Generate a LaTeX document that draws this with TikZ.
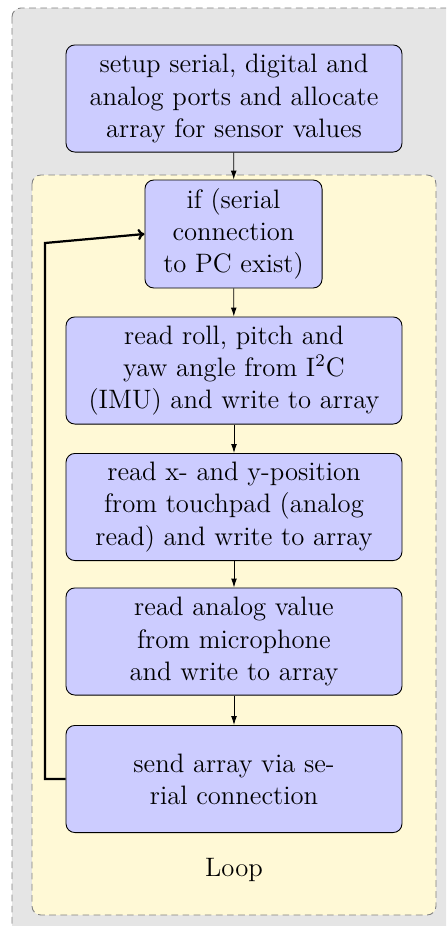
\documentclass[tikz,border=0pt,12pt]{standalone}
\usetikzlibrary{arrows.meta}
\definecolor{loopyellow}{RGB}{255,249,214}
\definecolor{boxblue}{RGB}{204,204,255}
\begin{document}
\begin{tikzpicture}[x=0.45pt,y=-0.45pt,
  stepbox/.style={draw=black, fill=boxblue, rounded corners=4pt, align=center,
    minimum width=151.2pt, minimum height=48.2pt, inner sep=0pt, font=\fontsize{12}{14.5}\selectfont},
  ifbox/.style={stepbox, minimum width=79.7pt, minimum height=48.6pt},
  flow/.style={-{Latex[length=4pt,width=2.6pt]}, line width=0.4pt},
  back/.style={-{To[length=3pt,width=5pt]}, line width=1pt},
  frame/.style={dash pattern=on 3pt off 2pt, draw=black!50, rounded corners=4pt}]
\useasboundingbox (0,0) rectangle (446,926);
\clip (0,0) rectangle (446,926);
\draw[frame, fill=gray!20] (12,8) rectangle (470,950);
\draw[frame, fill=loopyellow] (32,175) rectangle (436,915);
\node[stepbox] (setup) at (234,98.5) {setup serial, digital and\\analog ports and allocate\\array for sensor values};
\node[ifbox] (cond) at (233.5,234) {if (serial\\connection\\to PC exist)};
\node[stepbox] (imu) at (234,370.5) {read roll, pitch and\\yaw angle from I$^2$C\\(IMU) and write to array};
\node[stepbox] (touch) at (234,507) {read x- and y-position\\from touchpad (analog\\read) and write to array};
\node[stepbox] (mic) at (234,641.5) {read analog value\\from microphone\\and write to array};
\node[stepbox] (send) at (234,779) {send array via se-\\rial connection};
\node[font=\fontsize{12}{14.5}\selectfont] (looplabel) at (234,870) {Loop};
\draw[flow] (setup) -- (cond);
\draw[flow] (cond) -- (imu);
\draw[flow] (imu) -- (touch);
\draw[flow] (touch) -- (mic);
\draw[flow] (mic) -- (send);
\coordinate (c1) at (45,779);
\coordinate (c2) at (45,243);
\draw[back] (send.west) -- (c1) -- (c2) -- (cond.west);
\end{tikzpicture}
\end{document}
